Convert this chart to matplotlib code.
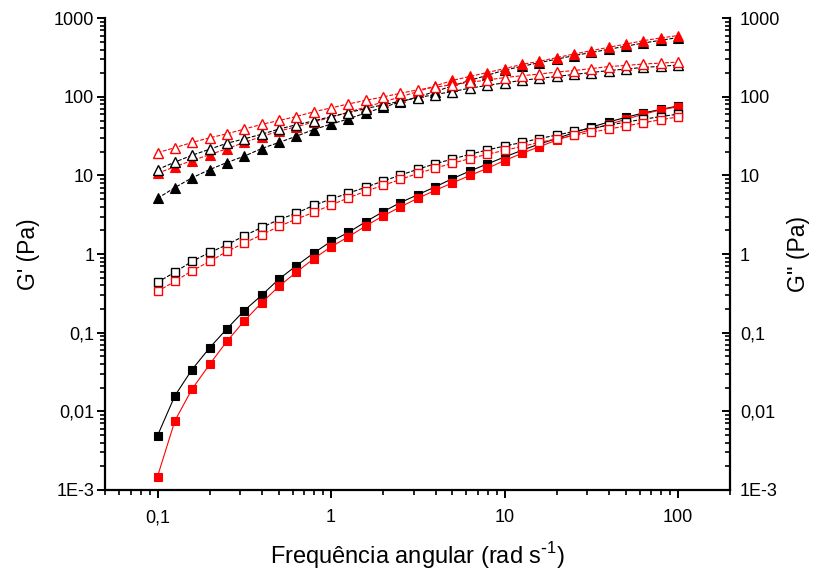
import matplotlib
matplotlib.use('Agg')
import matplotlib.pyplot as plt
from matplotlib.ticker import FixedLocator, FixedFormatter, LogLocator, NullFormatter

plt.rcParams['font.family'] = ['Liberation Sans', 'DejaVu Sans']

# angular frequency (rad/s)
freq = [0.1, 0.126, 0.158, 0.2, 0.251, 0.316, 0.398, 0.501, 0.631, 0.794,
        1, 1.26, 1.58, 2, 2.51, 3.16, 3.98, 5.01, 6.31, 7.94,
        10, 12.6, 15.8, 20, 25.1, 31.6, 39.8, 50.1, 63.1, 79.4, 100]

# triangles
tri_filled_black = [5.11, 7.03, 9.33, 11.9, 14.6, 17.6, 22.0, 26.3, 31.6, 38.4,
                    45.0, 52.5, 62.4, 73.8, 86.1, 100, 117, 138, 162, 188,
                    219, 245, 272, 302, 335, 367, 403, 442, 484, 525, 569]
tri_filled_red = [10.7, 12.9, 15.5, 18.4, 21.9, 26.3, 31.3, 36.7, 41.7, 47.9,
                  55.0, 63.8, 74.1, 86.1, 100, 117, 138, 162, 182, 204,
                  229, 259, 283, 316, 351, 387, 427, 470, 519, 562, 603]
tri_open_black = [11.9, 14.8, 18.1, 21.6, 25.7, 29.2, 33.5, 38.9, 44.2, 49.5,
                  56.2, 63.1, 70.8, 79.4, 88.1, 97.7, 107, 117, 129, 140,
                  151, 162, 172, 182, 193, 204, 216, 226, 237, 245, 254]
tri_open_red = [19.5, 22.6, 26.3, 30.2, 33.9, 38.9, 44.7, 50.1, 56.2, 64.6,
                72.4, 81.3, 90.2, 100, 111, 123, 133, 143, 153, 164,
                176, 186, 195, 207, 216, 229, 243, 251, 262, 269, 277]

# squares
sq_filled_black = [0.0049, 0.0158, 0.0339, 0.0646, 0.112, 0.191, 0.299, 0.481, 0.711, 1.03,
                   1.45, 1.89, 2.57, 3.47, 4.52, 5.69, 7.16, 9.12, 11.4, 14.0,
                   17.2, 20.9, 25.1, 29.5, 35.1, 41.2, 47.9, 55.0, 62.4, 69.2, 76.7]
sq_filled_red = [0.00148, 0.00759, 0.0191, 0.0398, 0.0776, 0.141, 0.240, 0.389, 0.589, 0.871,
                 1.24, 1.66, 2.27, 3.07, 3.98, 5.13, 6.46, 8.05, 10.0, 12.3,
                 15.5, 19.1, 23.2, 28.2, 33.1, 38.5, 44.7, 51.9, 60.3, 68.4, 75.0]
sq_open_black = [0.437, 0.590, 0.807, 1.05, 1.31, 1.71, 2.18, 2.75, 3.31, 4.17,
                 5.01, 5.96, 7.08, 8.51, 10.1, 12.0, 14.1, 16.2, 18.6, 21.1,
                 23.7, 26.3, 29.5, 32.7, 36.3, 39.8, 43.6, 47.9, 51.9, 56.2, 60.3]
sq_open_red = [0.336, 0.450, 0.614, 0.807, 1.08, 1.38, 1.76, 2.25, 2.79, 3.39,
               4.22, 5.19, 6.31, 7.50, 8.91, 10.6, 12.4, 14.3, 16.4, 18.6,
               20.9, 23.4, 26.3, 29.2, 32.4, 35.5, 38.9, 42.7, 46.8, 51.3, 55.6]

ytick_vals = [1e-3, 0.01, 0.1, 1, 10, 100, 1000]
ytick_labels = ['1E-3', '0,01', '0,1', '1', '10', '100', '1000']
xtick_vals = [0.1, 1, 10, 100]
xtick_labels = ['0,1', '1', '10', '100']

RED = '#ff0000'
BLK = '#000000'

fig = plt.figure(figsize=(8.16, 5.71), dpi=100)
ax = fig.add_axes([0.129, 0.142, 0.766, 0.826])

lw = 0.8
ms_sq = 6.2
ms_tri = 7.2
DASH = (0, (3.5, 1.5))

def filled(y, c, m, ms, z, ls='-'):
    ax.plot(freq, y, color=c, lw=lw, ls=ls, marker=m, ms=ms, mfc=c, mec=c, mew=0.8, zorder=z)

def hollow(y, c, m, ms, z, ls=DASH):
    ax.plot(freq, y, color=c, lw=lw, ls=ls, marker=m, ms=ms, mfc='white', mec=c, mew=1.0, zorder=z)

filled(sq_filled_black, BLK, 's', ms_sq, 3)
filled(sq_filled_red, RED, 's', ms_sq, 4)
hollow(sq_open_black, BLK, 's', ms_sq, 5)
hollow(sq_open_red, RED, 's', ms_sq, 6)

filled(tri_filled_black, BLK, '^', ms_tri, 3, DASH)
filled(tri_filled_red, RED, '^', ms_tri, 4, DASH)
hollow(tri_open_black, BLK, '^', ms_tri, 5)
hollow(tri_open_red, RED, '^', ms_tri, 6)

ax.set_xscale('log')
ax.set_yscale('log')
ax.set_xlim(0.05, 200)
ax.set_ylim(1e-3, 1000)

ax.xaxis.set_major_locator(FixedLocator(xtick_vals))
ax.xaxis.set_major_formatter(FixedFormatter(xtick_labels))
ax.xaxis.set_minor_locator(LogLocator(base=10, subs=range(2, 10), numticks=20))
ax.xaxis.set_minor_formatter(NullFormatter())
ax.yaxis.set_major_locator(FixedLocator(ytick_vals))
ax.yaxis.set_major_formatter(FixedFormatter(ytick_labels))
ax.yaxis.set_minor_locator(LogLocator(base=10, subs=range(2, 10), numticks=20))
ax.yaxis.set_minor_formatter(NullFormatter())

for s in ['left', 'bottom']:
    ax.spines[s].set_linewidth(1.6)
ax.spines['top'].set_visible(False)
ax.spines['right'].set_visible(False)

ax.tick_params(which='major', direction='out', length=6, width=1.4, labelsize=13)
ax.tick_params(which='minor', direction='out', length=3.5, width=1.2)
ax.tick_params(axis='y', pad=2)
ax.tick_params(axis='x', pad=8)

ax2 = ax.twinx()
ax2.set_yscale('log')
ax2.set_ylim(1e-3, 1000)
ax2.yaxis.set_major_locator(FixedLocator(ytick_vals))
ax2.yaxis.set_major_formatter(FixedFormatter(ytick_labels))
ax2.yaxis.set_minor_locator(LogLocator(base=10, subs=range(2, 10), numticks=20))
ax2.yaxis.set_minor_formatter(NullFormatter())
ax2.spines['right'].set_linewidth(1.6)
for s in ['left', 'bottom', 'top']:
    ax2.spines[s].set_visible(False)
ax2.tick_params(which='major', direction='in', length=6, width=1.4, labelsize=13, pad=7)
ax2.tick_params(which='minor', direction='in', length=3.5, width=1.2)

ax.set_xlabel('Frequência angular (rad s$^{\\mathregular{\\text{-}1}}$)', fontsize=17, labelpad=10)
ax.set_ylabel("G' (Pa)", fontsize=16.5, labelpad=10)
ax2.set_ylabel("G'' (Pa)", fontsize=16.5, labelpad=5, rotation=90)

fig.savefig('out.png', dpi=100)
